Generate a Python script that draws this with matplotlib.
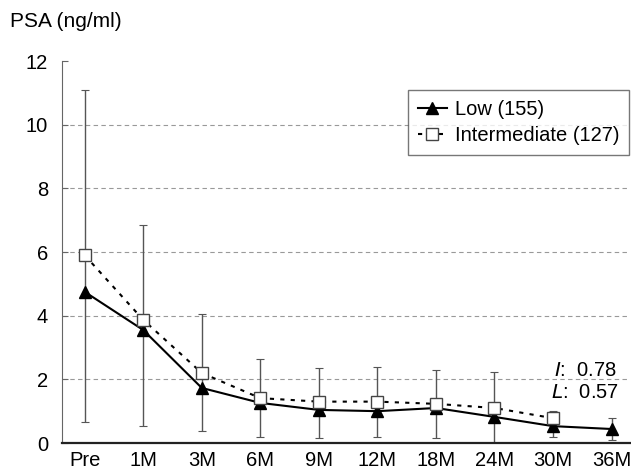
import numpy as np
import matplotlib
matplotlib.use('Agg')
import matplotlib.pyplot as plt

plt.rcParams['font.family'] = ['Liberation Sans', 'DejaVu Sans']

months = ['Pre', '1M', '3M', '6M', '9M', '12M', '18M', '24M', '30M', '36M']
low = [4.75, 3.55, 1.73, 1.26, 1.04, 1.0, 1.1, 0.82, 0.53, 0.44]
inter = [5.9, 3.87, 2.2, 1.41, 1.3, 1.3, 1.23, 1.1, 0.78]
err_hi = [11.1, 6.85, 4.06, 2.64, 2.36, 2.39, 2.3, 2.23, 1.0, 0.79]
err_lo = [0.66, 0.53, 0.38, 0.19, 0.15, 0.19, 0.16, 0.0, 0.19, 0.1]

x = np.arange(len(months))

fig = plt.figure(figsize=(6.31, 4.73), dpi=100)
ax = fig.add_axes([0.098, 0.0634, 0.9, 0.8076])

# error bars (range)
mid = [(h + l) / 2 for h, l in zip(err_hi, err_lo)]
ax.errorbar(x, mid, yerr=[np.subtract(mid, err_lo), np.subtract(err_hi, mid)],
            fmt='none', ecolor='#555555', elinewidth=1, capsize=3, capthick=0.8, zorder=2)

ax.plot(x, low, color='black', lw=1.5, marker='^', ms=8, mfc='black', mec='black',
        label='Low (155)', zorder=3)
ax.plot(x[:len(inter)], inter, color='black', lw=1.5, ls=(0, (2, 3)), marker='s', ms=8,
        mfc='white', mec='#444444', mew=1, label='Intermediate (127)', zorder=4)

ax.set_xlim(-0.39, 9.31)
ax.set_ylim(0, 12)
ax.set_yticks(range(0, 13, 2))
ax.set_xticks(x)
ax.set_xticklabels(months)
ax.tick_params(axis='x', length=0, labelsize=14.5, pad=6)
ax.tick_params(axis='y', direction='in', length=4, labelsize=14.5, color='#666666', pad=10)
for yv in range(2, 12, 2):
    ax.axhline(yv, color='#999999', lw=0.8, ls=(0, (4, 3)), zorder=1)

for s in ['top', 'right']:
    ax.spines[s].set_visible(False)
ax.spines['left'].set_color('#666666')
ax.spines['left'].set_linewidth(0.8)
ax.spines['bottom'].set_color('#222222')
ax.spines['bottom'].set_linewidth(1.6)

fig.text(0.016, 0.955, 'PSA (ng/ml)', fontsize=15, va='center')

leg = ax.legend(loc='upper right', bbox_to_anchor=(0.999, 0.924), borderaxespad=0,
                fontsize=14.5, frameon=True, fancybox=False, edgecolor='#555555',
                handlelength=1.4, handletextpad=0.4, borderpad=0.5, labelspacing=0.35)
leg.get_frame().set_linewidth(1)

ax.text(8.02, 2.28, r'$\it{I}$:  0.78', fontsize=14.5, va='center')
ax.text(7.97, 1.6, r'$\it{L}$:  0.57', fontsize=14.5, va='center')

fig.savefig('out.png', dpi=100)
